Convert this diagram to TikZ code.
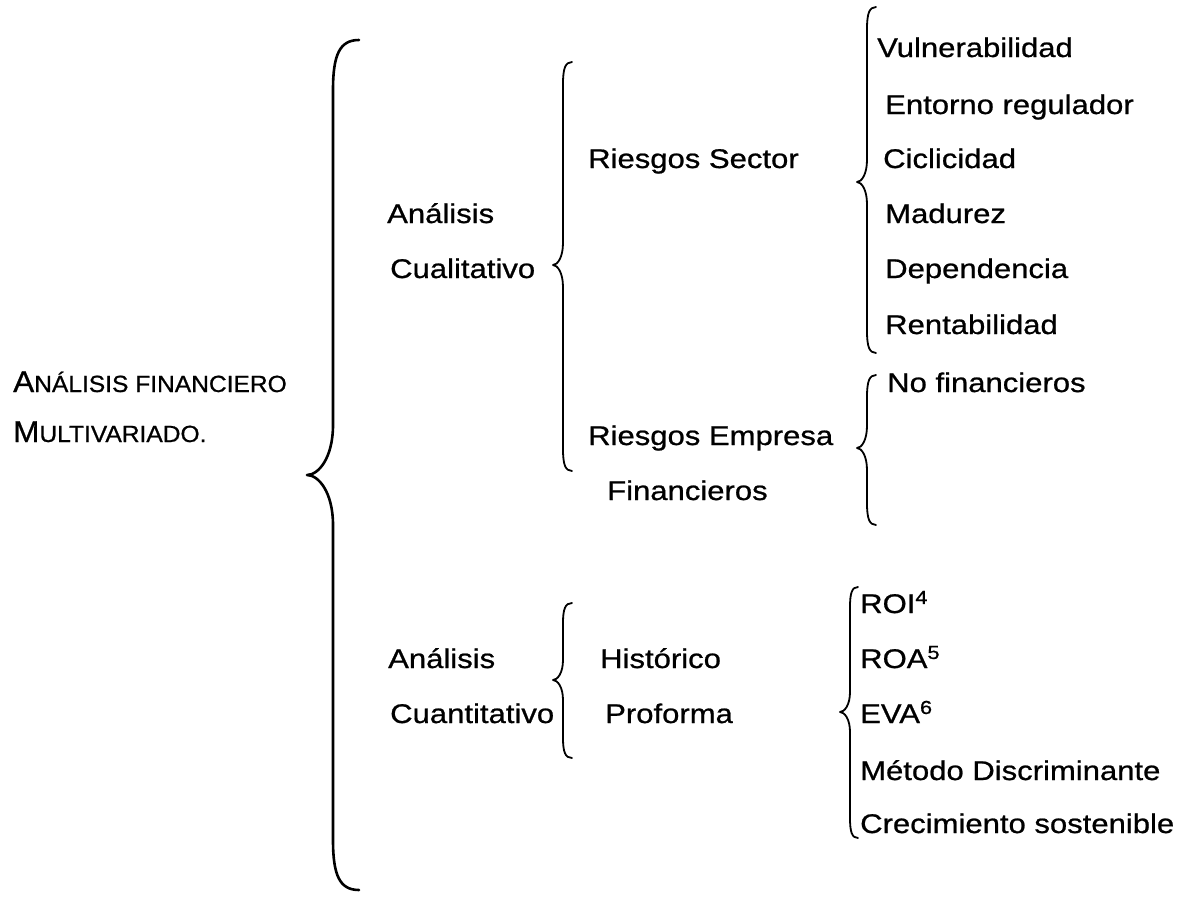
\documentclass[tikz,border=0pt]{standalone}
\usepackage{fontspec}
\setmainfont[FakeStretch=1.15,FakeBold=0.8]{Liberation Sans}
\newfontfamily\titlefont[FakeStretch=1.05,FakeBold=0.8]{Liberation Sans}
\newcommand\mybrace[8]{% #1 xe, #2 ytop, #3 xv, #4 xc, #5 yc, #6 ybot, #7 r, #8 style
  \draw[#8] (#1,#2) .. controls ({#3+0.25*(#1-#3)},#2) and (#3,{#2+0.3*#7}) .. (#3,{#2+#7})
    -- (#3,{#5-#7}) .. controls (#3,{#5-0.35*#7}) and ({#4+0.45*(#3-#4)},#5) .. (#4,#5)
    .. controls ({#4+0.45*(#3-#4)},#5) and (#3,{#5+0.35*#7}) .. (#3,{#5+#7})
    -- (#3,{#6-#7}) .. controls (#3,{#6-0.3*#7}) and ({#3+0.25*(#1-#3)},#6) .. (#1,#6);}
\begin{document}
\begin{tikzpicture}[x=1pt,y=-1pt,
  txt/.style={anchor=base west,inner sep=0pt,font=\fontsize{27}{32}\selectfont},
  ttl/.style={anchor=base west,inner sep=0pt},
  bigbrace/.style={line width=2.6pt,line cap=round,line join=round},
  smallbrace/.style={line width=1.8pt,line cap=round,line join=round}]
\useasboundingbox (0,0) rectangle (1189,897);
% title
\node[ttl] (title1) at (13,392) {\titlefont\fontsize{30}{36}\selectfont A{\fontsize{23.4}{28}\selectfont NÁLISIS FINANCIERO}};
\node[ttl] (title2) at (13,442) {\titlefont\fontsize{30}{36}\selectfont M{\fontsize{23.4}{28}\selectfont ULTIVARIADO.}};
% braces
\mybrace{359}{40}{333}{307}{475}{890}{50}{bigbrace}
\mybrace{572}{62}{563}{553}{265}{471}{22}{smallbrace}
\mybrace{876}{7}{867}{857}{182}{353}{22}{smallbrace}
\mybrace{876}{375}{867}{857}{448}{525}{22}{smallbrace}
\mybrace{572}{603}{563}{553}{680}{758}{20}{smallbrace}
\mybrace{858}{587}{850}{840}{712}{838}{20}{smallbrace}
% qualitative
\node[txt] (cual1) at (387,223) {Análisis};
\node[txt] (cual2) at (390,278) {Cualitativo};
\node[txt] (rsector) at (588,168) {Riesgos Sector};
\node[txt] (rempresa) at (588,445) {Riesgos Empresa};
\node[txt] (financieros) at (607,500) {Financieros};
\node[txt] (vuln) at (877,57) {Vulnerabilidad};
\node[txt] (entorno) at (885,114) {Entorno regulador};
\node[txt] (cicl) at (883,168) {Ciclicidad};
\node[txt] (madurez) at (885,223) {Madurez};
\node[txt] (depend) at (885,278) {Dependencia};
\node[txt] (rentab) at (885,334) {Rentabilidad};
\node[txt] (nofin) at (887,392) {No financieros};
% quantitative
\node[txt] (cuan1) at (388,668) {Análisis};
\node[txt] (cuan2) at (390,723) {Cuantitativo};
\node[txt] (hist) at (600,668) {Histórico};
\node[txt] (proforma) at (605,723) {Proforma};
\node[txt] (roi) at (860,613) {ROI\textsuperscript{4}};
\node[txt] (roa) at (860,668) {ROA\textsuperscript{5}};
\node[txt] (eva) at (860,723) {EVA\textsuperscript{6}};
\node[txt] (metodo) at (860,780) {Método Discriminante};
\node[txt] (crec) at (860,833) {Crecimiento sostenible};
\end{tikzpicture}
\end{document}
